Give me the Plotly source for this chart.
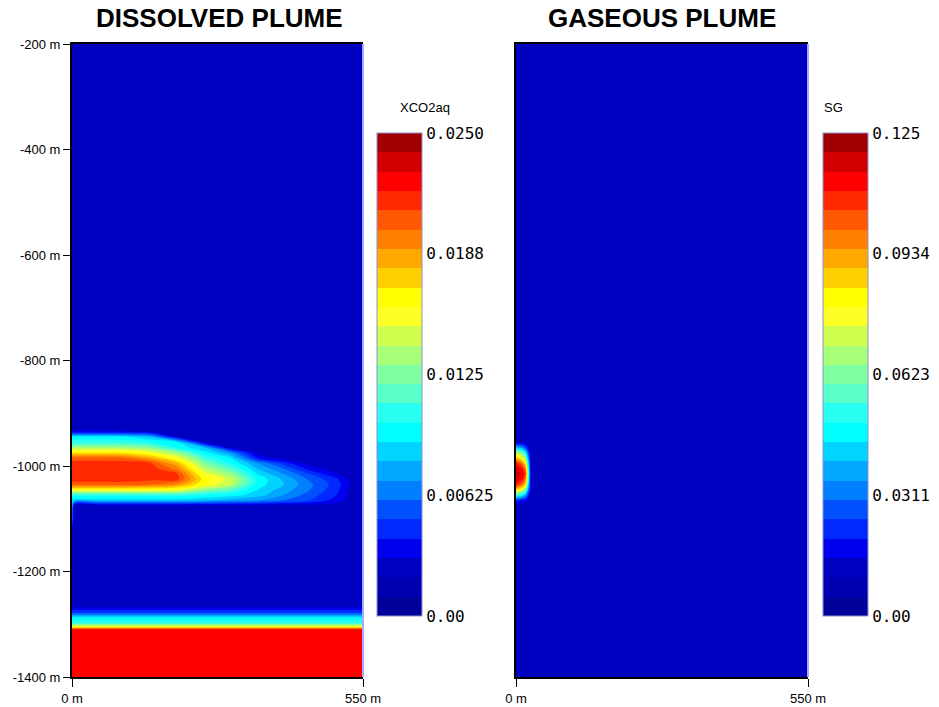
import numpy as np
import plotly.graph_objects as go

# ---------------- data ----------------
# Band colours of the 25-level legend, bottom (0) to top (24)
BAND_COLORS = ["#00009A", "#0000B0", "#0000C0", "#0000EE", "#0028FF", "#0050FF",
               "#0080FF", "#00A8FF", "#00D4FF", "#00FFFF", "#28FFF0", "#58FFC8",
               "#80FFA0", "#A8FF78", "#D0FF50", "#FFFF28", "#FFFF00", "#FFD000",
               "#FFA800", "#FF8000", "#FF5800", "#FF2800", "#FF0000", "#D00000",
               "#A00000"]

# Dissolved plume: XCO2aq (x 1e-3) on a coarse grid
AQ_X = [0, 4, 50, 100, 150, 200, 250, 300, 350, 400, 450, 500, 530, 550]
AQ_DEPTH = [-200, -925, -935, -945, -955, -965, -975, -985, -995, -1005, -1015,
            -1025, -1035, -1045, -1055, -1065, -1075, -1100, -1125, -1265,
            -1278, -1288, -1298, -1305, -1310, -1400]
AQ_BOTTOM = [2.5, 2.5, 5, 9.5, 11, 16, 22.5, 22.5]   # rows -1125 .. -1400
AQ_COLS = {
    0:   [2.5, 2.5, 3.2, 9.5, 10.5, 13.5, 17, 20.5, 21.5, 21.5, 21.5, 21.5, 20.5, 16, 10.5, 8.5, 8, 6],
    4:   [2.5, 2.5, 3.2, 9.5, 10.5, 13.5, 17, 20.5, 21.5, 21.5, 21.5, 21.5, 20.5, 16, 10.5, 8.5, 2.5, 2.5],
    50:  [2.5, 2.5, 3.2, 9.5, 10.5, 13.5, 17, 20.5, 21.5, 21.5, 21.5, 21.5, 20.5, 16, 10.5, 8.5, 2.5, 2.5],
    100: [2.5, 2.5, 3.1, 9.3, 10.5, 13.3, 16.8, 20.2, 21.5, 21.5, 21.5, 21.5, 20.5, 16, 10.5, 8.5, 2.5, 2.5],
    150: [2.5, 2.5, 2.8, 8, 10, 12.5, 15.5, 18.5, 21, 21.5, 21.5, 21.3, 20, 16, 10.5, 8.5, 2.5, 2.5],
    200: [2.5, 2.5, 2.5, 3, 9, 9.8, 13, 15.5, 18, 19.5, 21, 21.2, 19, 15.5, 10.5, 8.5, 2.5, 2.5],
    250: [2.5, 2.5, 2.5, 2.5, 2.8, 8, 9.5, 11, 12.5, 14, 15.5, 16.5, 16, 13, 10, 8, 2.5, 2.5],
    300: [2.5, 2.5, 2.5, 2.5, 2.5, 2.5, 7, 9, 10, 11.5, 13, 14.5, 14, 11.5, 9.5, 7.5, 2.5, 2.5],
    350: [2.5, 2.5, 2.5, 2.5, 2.5, 2.5, 2.5, 4, 7, 8, 9, 9.8, 9.5, 9, 8.5, 7, 2.5, 2.5],
    400: [2.5, 2.5, 2.5, 2.5, 2.5, 2.5, 2.5, 2.5, 4.5, 6, 7, 7.8, 8, 7.5, 7, 6, 2.5, 2.5],
    450: [2.5, 2.5, 2.5, 2.5, 2.5, 2.5, 2.5, 2.5, 2.5, 3.5, 5, 5.8, 6.2, 6, 5.5, 5, 2.5, 2.5],
    500: [2.5, 2.5, 2.5, 2.5, 2.5, 2.5, 2.5, 2.5, 2.5, 2.5, 3, 4.2, 4.5, 4.3, 4, 3.5, 2.5, 2.5],
    530: [2.5, 2.5, 2.5, 2.5, 2.5, 2.5, 2.5, 2.5, 2.5, 2.5, 2.5, 2.5, 2.7, 2.5, 2.5, 2.5, 2.5, 2.5],
    550: [2.5, 2.5, 2.5, 2.5, 2.5, 2.5, 2.5, 2.5, 2.5, 2.5, 2.5, 2.5, 2.5, 2.5, 2.5, 2.5, 2.5, 2.5],
}

# Gaseous plume: SG (x 1e-3) on a coarse grid
SG_X = [0, 6, 12, 18, 24, 28, 550]
SG_DEPTH = [-200, -945, -955, -965, -975, -985, -995, -1005, -1015, -1025,
            -1035, -1045, -1055, -1065, -1075, -1400]
SG_COLS = {
    0:   [12.5, 12.5, 14, 40, 70, 90, 111, 118, 121, 118, 110, 85, 55, 22, 12.5, 12.5],
    6:   [12.5, 12.5, 13.5, 38, 66, 85, 105, 113, 116, 113, 105, 81, 52, 21, 12.5, 12.5],
    12:  [12.5, 12.5, 13, 34, 60, 78, 98, 110, 115, 110, 100, 75, 47, 19, 12.5, 12.5],
    18:  [12.5, 12.5, 12.5, 26, 47, 64, 82, 97, 105, 97, 86, 62, 38, 16, 12.5, 12.5],
    24:  [12.5, 12.5, 12.5, 14, 24, 32, 40, 46, 50, 46, 40, 30, 20, 13, 12.5, 12.5],
    28:  [12.5] * 16,
    550: [12.5] * 16,
}

AQ_TICKVALS = [0, 0.00625, 0.0125, 0.01875, 0.025]
AQ_TICKTEXT = ["0.00", "0.00625", "0.0125", "0.0188", "0.0250"]
SG_TICKVALS = [0, 0.03125, 0.0625, 0.09375, 0.125]
SG_TICKTEXT = ["0.00", "0.0311", "0.0623", "0.0934", "0.125"]
Y_TICKS = [-1400, -1200, -1000, -800, -600, -400, -200]
X_TICKS = [0, 550]

# ---------------- build tables ----------------
aq_z = np.array([AQ_COLS[x] + AQ_BOTTOM for x in AQ_X]).T * 1e-3
sg_z = np.array([SG_COLS[x] for x in SG_X]).T * 1e-3

n = len(BAND_COLORS)
cscale = []
for i, c in enumerate(BAND_COLORS):
    cscale.append([i / n, c])
    cscale.append([(i + 1) / n, c])

W, H = 939, 707
def px(xp):
    return xp / W
def py(yp):
    return 1 - yp / H

tickfont = dict(family="Liberation Sans, Arial, sans-serif", size=13, color="black")
cbfont = dict(family="DejaVu Sans Mono, monospace", size=16, color="black")

def colorbar(x0, tv, tt):
    return dict(x=px(x0), xanchor="left", xref="paper",
                y=py(616), yanchor="bottom", yref="paper",
                len=(616 - 133) / H, lenmode="fraction",
                thickness=45, thicknessmode="pixels",
                xpad=0, ypad=0, outlinewidth=1, outlinecolor="#9090d0",
                tickvals=tv, ticktext=tt, ticks="", tickfont=cbfont)

fig = go.Figure()
fig.add_trace(go.Contour(
    x=AQ_X, y=AQ_DEPTH, z=aq_z, colorscale=cscale, zmin=0, zmax=0.025,
    autocontour=False, contours=dict(start=0, end=0.025, size=0.001,
                                     coloring="fill", showlines=False),
    line=dict(width=0), colorbar=colorbar(377, AQ_TICKVALS, AQ_TICKTEXT),
    xaxis="x", yaxis="y"))
fig.add_trace(go.Contour(
    x=SG_X, y=SG_DEPTH, z=sg_z, colorscale=cscale, zmin=0, zmax=0.125,
    autocontour=False, contours=dict(start=0, end=0.125, size=0.005,
                                     coloring="fill", showlines=False),
    line=dict(width=0), colorbar=colorbar(823, SG_TICKVALS, SG_TICKTEXT),
    xaxis="x2", yaxis="y2"))

ydom = [py(677), py(44)]
common_x = dict(range=[0, 550], tickvals=X_TICKS, ticktext=[f"{v} m" for v in X_TICKS],
                ticks="outside", ticklen=8, tickwidth=1, tickcolor="black",
                showline=True, linecolor="black", linewidth=2, mirror=True,
                showgrid=False, zeroline=False, tickfont=tickfont, automargin=False)
fig.update_layout(
    width=W, height=H, autosize=False,
    margin=dict(l=0, r=0, t=0, b=0, pad=0, autoexpand=False),
    paper_bgcolor="white", plot_bgcolor="white",
    showlegend=False,
    xaxis=dict(domain=[px(72), px(363)], anchor="y", **common_x),
    xaxis2=dict(domain=[px(516), px(808)], anchor="y2", **common_x),
    yaxis=dict(domain=ydom, anchor="x", range=[-1400, -200], tickvals=Y_TICKS,
               ticktext=[f"{v} m" for v in Y_TICKS], ticks="outside", ticklen=7,
               tickcolor="black", showline=True, linecolor="black", linewidth=2,
               showgrid=False, zeroline=False, tickfont=tickfont, automargin=False),
    yaxis2=dict(domain=ydom, anchor="x2", range=[-1400, -200], showticklabels=False,
                ticks="", showline=True, linecolor="black", linewidth=2,
                showgrid=False, zeroline=False, automargin=False),
)

for xr, yr in (("x", "y"), ("x2", "y2")):
    fig.add_shape(type="line", xref=f"{xr} domain", yref=f"{yr} domain",
                  x0=1, x1=1, y0=0, y1=1, line=dict(color="#a8a8ff", width=2))

titlefont = dict(family="Liberation Sans, Arial, sans-serif", size=26, color="black")
fig.add_annotation(text="<b>DISSOLVED PLUME</b>", x=px(219), y=py(18), xref="paper",
                   yref="paper", showarrow=False, font=titlefont, xanchor="center", yanchor="middle")
fig.add_annotation(text="<b>GASEOUS PLUME</b>", x=px(662), y=py(18), xref="paper",
                   yref="paper", showarrow=False, font=titlefont, xanchor="center", yanchor="middle")
cbt = dict(family="Liberation Sans, Arial, sans-serif", size=13, color="black")
fig.add_annotation(text="XCO2aq", x=px(398), y=py(107), xref="paper", yref="paper",
                   showarrow=False, font=cbt, xanchor="left", yanchor="middle")
fig.add_annotation(text="SG", x=px(822), y=py(107), xref="paper", yref="paper",
                   showarrow=False, font=cbt, xanchor="left", yanchor="middle")

fig.write_html("out.html")
